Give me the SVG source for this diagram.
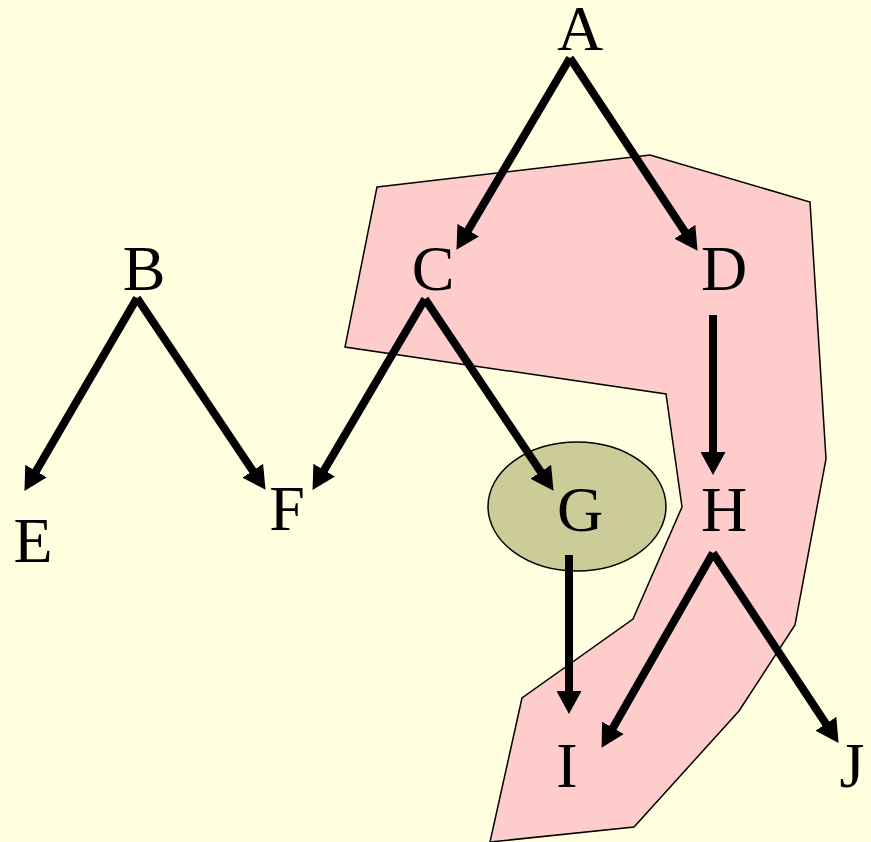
<svg xmlns="http://www.w3.org/2000/svg" width="871" height="842" viewBox="0 0 871 842">
<style>
.lbl{font-family:"Liberation Serif","Times New Roman",serif;font-size:64px;fill:#000;text-anchor:middle}
.edge{stroke:#000;stroke-width:8;fill:none;marker-end:url(#ah)}
</style>
<defs>
<marker id="ah" markerUnits="userSpaceOnUse" viewBox="0 0 23 25" markerWidth="23" markerHeight="25" refX="12" refY="12.5" orient="auto">
<path d="M0,0 L23,12.5 L0,25 z" fill="#000"/>
</marker>
</defs>
<rect width="871" height="842" fill="#FFFFE0"/>
<polygon id="region" points="377,187 650,155 810,202 826,459 795,625 739,711 634,827 490,842 522,698 633,619 682,507 666,394 345,347" fill="#FFCCCC" stroke="#000" stroke-width="1.5"/>
<g id="node-G"><ellipse cx="577" cy="506.5" rx="89" ry="64.5" fill="#CCCC99" stroke="#000" stroke-width="1.5"/><text class="lbl" x="580" y="531">G</text></g>
<g id="connectors">
<line class="edge" x1="570" y1="58" x2="462.1" y2="240.4"/>
<line class="edge" x1="570" y1="58" x2="691.5" y2="241.7"/>
<line class="edge" x1="137" y1="298" x2="30" y2="481.4"/>
<line class="edge" x1="137" y1="298" x2="259.4" y2="480.7"/>
<line class="edge" x1="425" y1="299" x2="318.1" y2="480.4"/>
<line class="edge" x1="425" y1="299" x2="547.4" y2="481.7"/>
<line class="edge" x1="713" y1="315" x2="713" y2="464"/>
<line class="edge" x1="569" y1="555" x2="569" y2="703"/>
<line class="edge" x1="713" y1="553" x2="607" y2="738.3"/>
<line class="edge" x1="713" y1="553" x2="832.5" y2="733.7"/>
</g>
<g id="node-A"><text class="lbl" x="580" y="50">A</text></g>
<g id="node-B"><text class="lbl" x="144" y="290">B</text></g>
<g id="node-C"><text class="lbl" x="433" y="290">C</text></g>
<g id="node-D"><text class="lbl" x="724" y="290">D</text></g>
<g id="node-E"><text class="lbl" x="33" y="562">E</text></g>
<g id="node-F"><text class="lbl" x="287" y="530">F</text></g>
<g id="node-H"><text class="lbl" x="724" y="531">H</text></g>
<g id="node-I"><text class="lbl" x="567" y="787">I</text></g>
<g id="node-J"><text class="lbl" x="852" y="787">J</text></g>
</svg>
